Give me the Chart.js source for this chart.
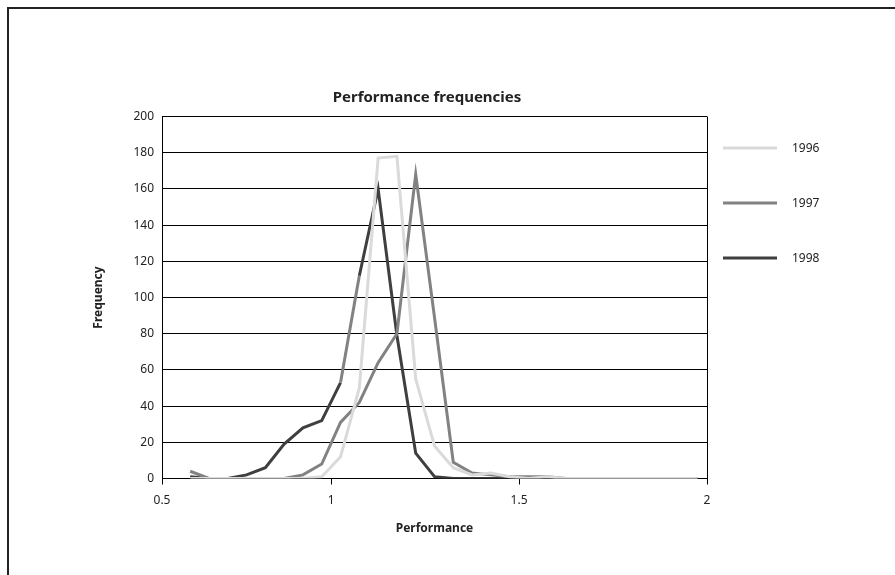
<!DOCTYPE html>
<html>
<head>
<meta charset="utf-8">
<title>Performance frequencies</title>
<script src="https://cdn.jsdelivr.net/npm/chart.js@4.4.1/dist/chart.umd.min.js"></script>
<style>
  html, body { margin: 0; padding: 0; background: #fff; }
  #wrap { width: 895px; height: 575px; }
</style>
</head>
<body>
<div id="wrap"><canvas id="myChart" width="895" height="575"></canvas></div>
<script>
// bin midpoints (performance)
const performance = [0.625, 0.675, 0.725, 0.775, 0.825, 0.875, 0.925, 0.975, 1.025, 1.075,
  1.125, 1.175, 1.225, 1.275, 1.325, 1.375, 1.425, 1.475, 1.525, 1.575,
  1.625, 1.675, 1.725, 1.775, 1.825, 1.875, 1.925, 1.975];

const freq1996 = [0, 0, 0, 0, 0, 0, 0, 1, 12, 50, 177, 178, 55, 18, 6, 2, 3, 1, 0, 1, 0, 0, 0, 0, 0, 0, 0, 0];
const freq1997 = [4, 0, 0, 0, 0, 0, 2, 8, 31, 42, 64, 80, 168, 89, 9, 3, 2, 1, 1, 1, 0, 0, 0, 0, 0, 0, 0, 0];
const freq1998 = [1, 0, 0, 2, 6, 19, 28, 32, 53, 112, 160, 79, 14, 1, 0, 0, 0, 0, 0, 0, 0, 0, 0, 0, 0, 0, 0, 0];

const seriesNames = ['1996', '1997', '1998'];
const seriesColors = ['#dadada', '#828282', '#3f3f3f'];

const xTickValues = [0.55, 1, 1.5, 2];
const xTickLabels = ['0.5', '1', '1.5', '2'];
const yMax = 200;
const yStep = 20;

const chartTitle = 'Performance frequencies';
const FONT = '"Noto Sans", "Open Sans", sans-serif';

function toPoints(values) {
  return values.map((v, i) => ({x: performance[i], y: v}));
}

// outer frame, title and right edge of the plot area
const framePlugin = {
  id: 'frame',
  beforeDraw(chart) {
    const ctx = chart.ctx;
    ctx.save();
    ctx.fillStyle = '#fff';
    ctx.fillRect(0, 0, chart.width, chart.height);
    ctx.strokeStyle = '#222';
    ctx.lineWidth = 2;
    ctx.strokeRect(8, 8, chart.width + 20, chart.height + 20);
    ctx.restore();
  },
  afterDraw(chart) {
    const {ctx, chartArea} = chart;
    ctx.save();
    ctx.strokeStyle = '#000';
    ctx.lineWidth = 1;
    ctx.beginPath();
    ctx.moveTo(Math.round(chartArea.right) + 0.5, chartArea.top);
    ctx.lineTo(Math.round(chartArea.right) + 0.5, chartArea.bottom);
    ctx.stroke();

    ctx.fillStyle = '#222';
    ctx.font = 'bold 15px ' + FONT;
    ctx.textAlign = 'center';
    ctx.textBaseline = 'middle';
    ctx.fillText(chartTitle, 427, 98);
    ctx.restore();
  }
};

// legend to the right, lines with labels
const sideLegend = {
  id: 'sideLegend',
  afterDraw(chart) {
    const ctx = chart.ctx;
    ctx.save();
    ctx.font = '12px ' + FONT;
    ctx.textBaseline = 'middle';
    ctx.textAlign = 'left';
    chart.data.datasets.forEach((ds, i) => {
      const y = 148 + i * 55;
      ctx.strokeStyle = ds.borderColor;
      ctx.lineWidth = 3;
      ctx.beginPath();
      ctx.moveTo(723, y);
      ctx.lineTo(777, y);
      ctx.stroke();
      ctx.fillStyle = '#222';
      ctx.fillText(ds.label, 792, y + 1);
    });
    ctx.restore();
  }
};

const ctx = document.getElementById('myChart').getContext('2d');

new Chart(ctx, {
  type: 'line',
  data: {
    datasets: [
      {label: seriesNames[0], data: toPoints(freq1996), borderColor: seriesColors[0]},
      {label: seriesNames[1], data: toPoints(freq1997), borderColor: seriesColors[1]},
      {
        label: seriesNames[2], data: toPoints(freq1998), borderColor: seriesColors[2],
        segment: {borderColor: (c) => c.p0DataIndex === 8 ? seriesColors[1] : undefined}
      }
    ]
  },
  options: {
    responsive: false,
    animation: false,
    parsing: false,
    layout: {padding: {left: 0, right: 188, top: 116.5, bottom: 24.5}},
    elements: {
      line: {borderWidth: 3, tension: 0, fill: false, borderCapStyle: 'butt', borderJoinStyle: 'miter'},
      point: {radius: 0, hoverRadius: 0}
    },
    plugins: {
      legend: {display: false},
      tooltip: {enabled: false},
      title: {display: false}
    },
    scales: {
      x: {
        type: 'linear',
        min: xTickValues[0],
        max: xTickValues[xTickValues.length - 1],
        afterBuildTicks: (scale) => {
          scale.ticks = xTickValues.map((v) => ({value: v}));
        },
        afterFit: (scale) => { scale.height = 72; },
        ticks: {
          color: '#222',
          font: {family: FONT, size: 12},
          padding: 9,
          maxRotation: 0,
          callback: (value, index) => xTickLabels[index]
        },
        grid: {
          drawOnChartArea: false,
          tickLength: 6,
          tickColor: '#000',
          color: '#000'
        },
        border: {display: true, color: '#000', width: 1},
        title: {
          display: true,
          text: 'Performance',
          color: '#222',
          font: {family: FONT, size: 12, weight: 'bold'},
          padding: {top: 0, bottom: 14.3}
        }
      },
      y: {
        min: 0,
        max: yMax,
        afterFit: (scale) => { scale.width = 162; },
        ticks: {
          stepSize: yStep,
          color: '#222',
          font: {family: FONT, size: 12},
          padding: 8
        },
        grid: {
          color: '#000',
          lineWidth: 1,
          drawTicks: false
        },
        border: {display: true, color: '#000', width: 1},
        title: {
          display: true,
          text: 'Frequency',
          color: '#222',
          font: {family: FONT, size: 12, weight: 'bold'},
          padding: {top: 91, bottom: 0}
        }
      }
    }
  },
  plugins: [framePlugin, sideLegend]
});
</script>
</body>
</html>
